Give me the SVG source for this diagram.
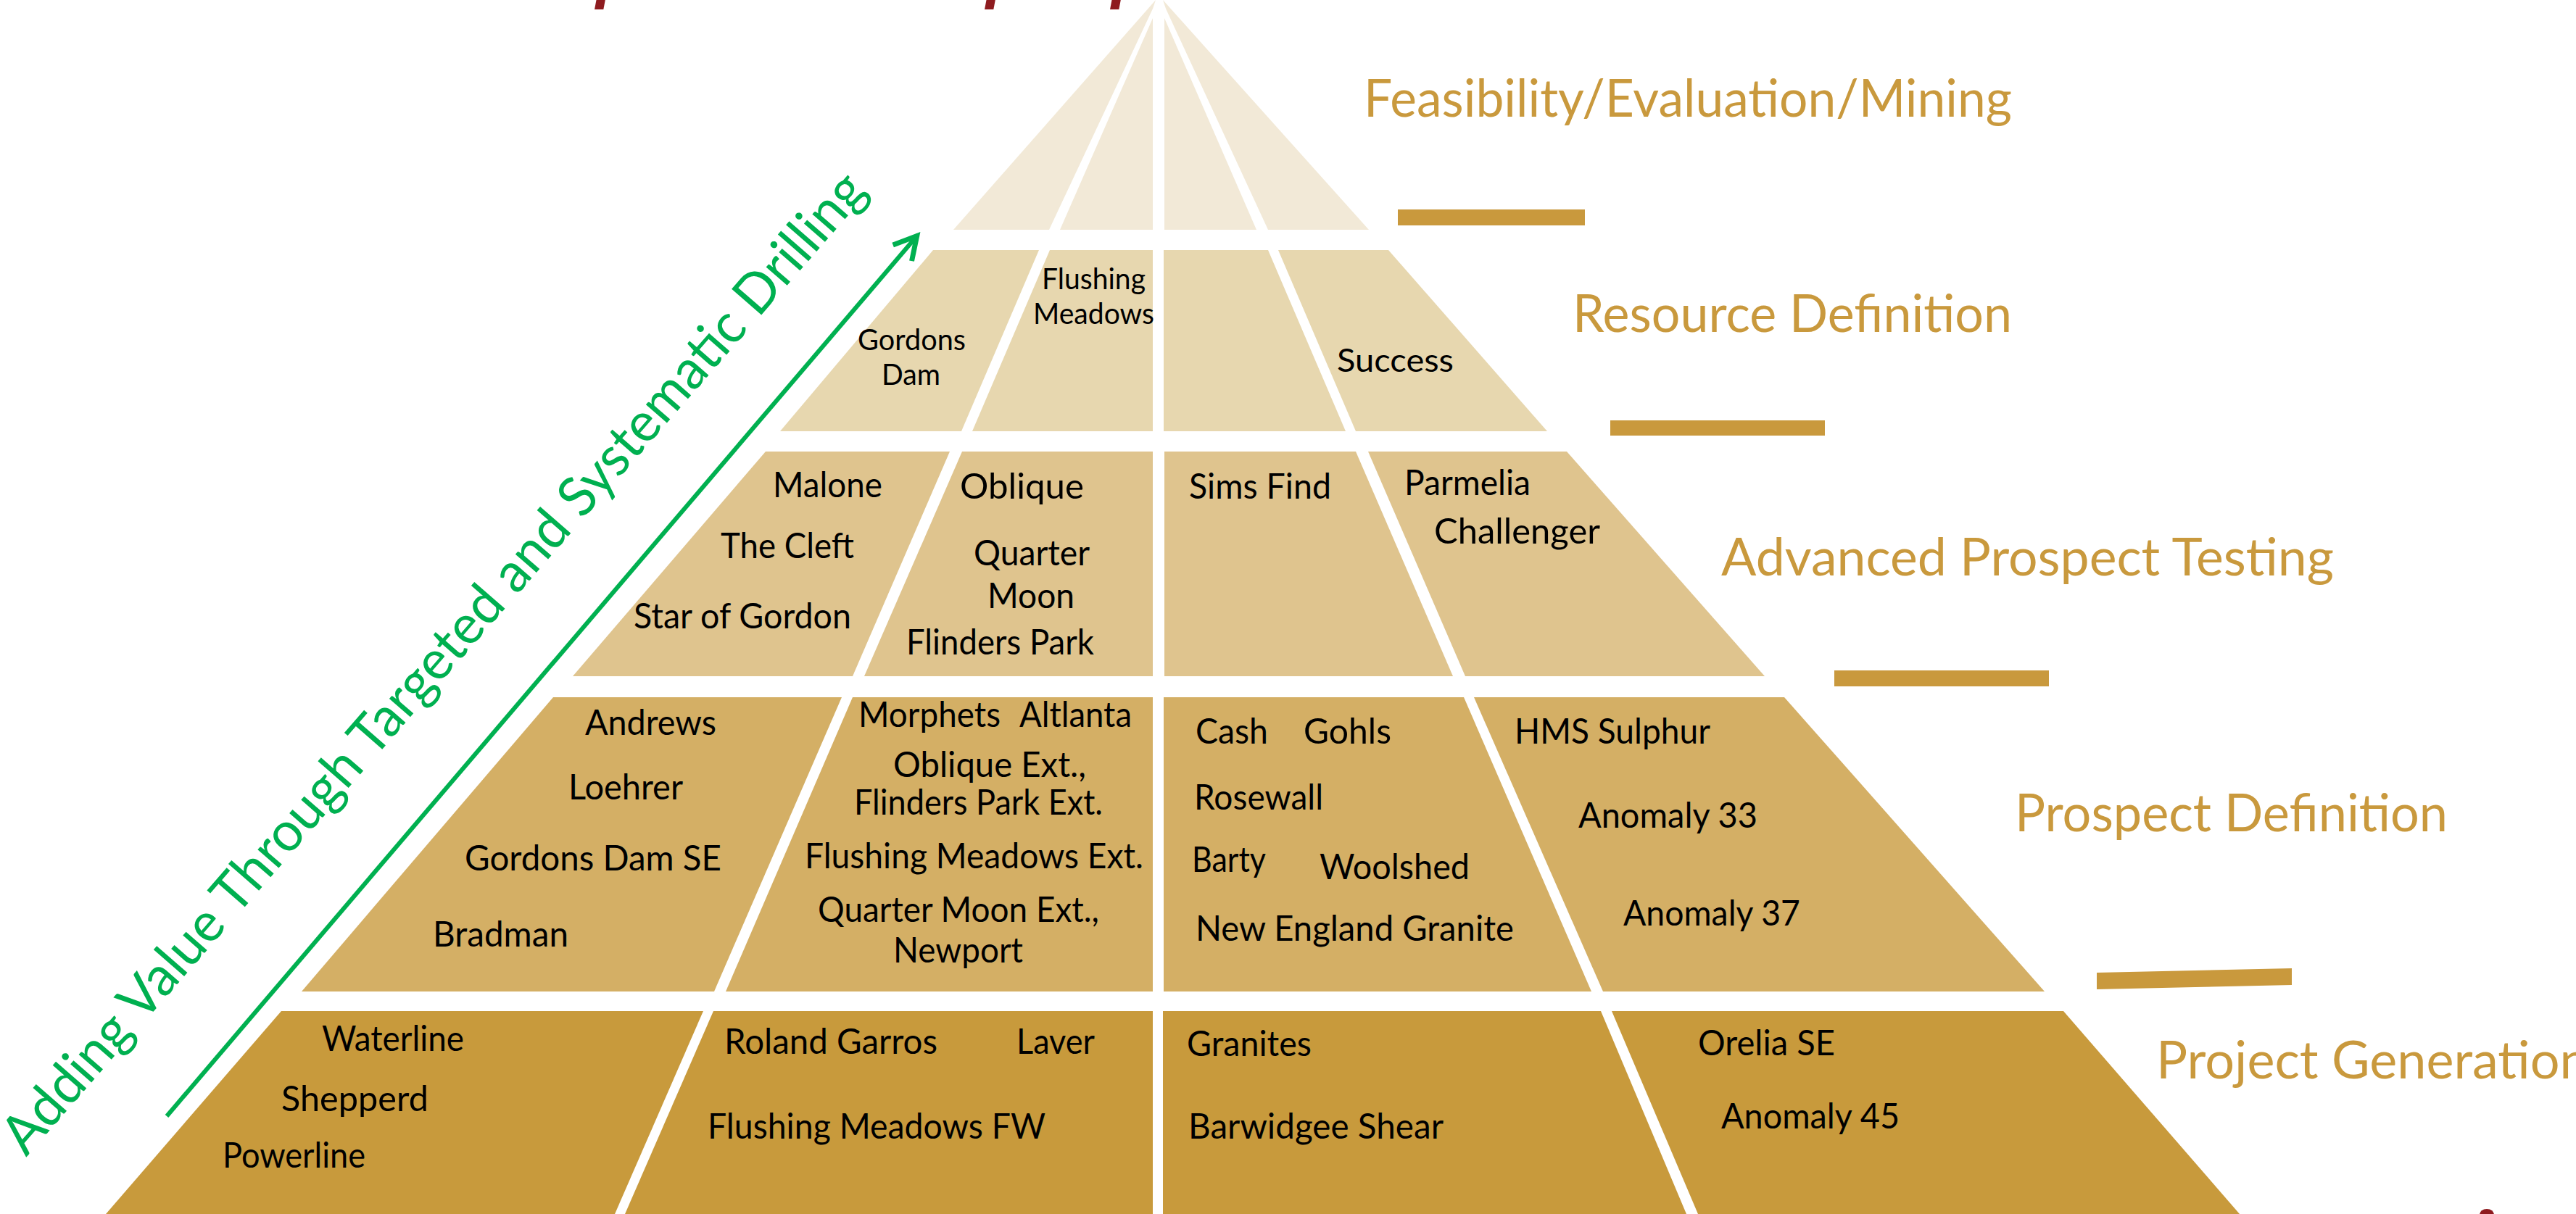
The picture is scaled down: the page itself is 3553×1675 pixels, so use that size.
<svg xmlns="http://www.w3.org/2000/svg" width="3553" height="1675" viewBox="0 0 3553 1675">
<defs>
<style>
.t1{fill:#F2E9D7}
.t2{fill:#E7D7AF}
.t3{fill:#DFC48E}
.t4{fill:#D4AF65}
.t5{fill:#C89A3C}
.lbl{font-family:Lato,"Open Sans","Liberation Sans",sans-serif;fill:#000;font-size:48px}
.sm{font-size:40px}
.stage{font-family:Lato,"Open Sans","Liberation Sans",sans-serif;fill:#C9993D;font-size:72px}
.bar{fill:#C9993D}
.green{font-family:Lato,"Open Sans","Liberation Sans",sans-serif;fill:#00B050;font-size:76px}
.title{font-family:"Liberation Sans",Arial,sans-serif;font-weight:bold;font-style:italic;fill:#8E1B1F;font-size:90px}
</style>
<marker id="arr" markerUnits="userSpaceOnUse" viewBox="-45 -30 55 60" markerWidth="55" markerHeight="60" refX="2" refY="0" orient="auto" overflow="visible">
<path d="M -31 -17 L 0 0 L -31 17" fill="none" stroke="#00B050" stroke-width="7"/>
</marker>
</defs>
<rect x="0" y="0" width="3553" height="1675" fill="#FFFFFF"/>

<g id="title-fragments">
<text class="title" x="822" y="-6">p</text>
<text class="title" x="1360" y="-6">p</text>
<text class="title" x="1533" y="-6">p</text>
</g>

<g id="tier1">
<g id="c1a"><polygon class="t1" points="1315,317 1447,317 1590,12 1594,0"/></g>
<g id="c1b"><polygon class="t1" points="1462,317 1590,317 1590,25"/></g>
<g id="c1c"><polygon class="t1" points="1606,317 1733,317 1606,25"/></g>
<g id="c1d"><polygon class="t1" points="1749,317 1888,317 1604,0 1608,12"/></g>
</g>

<g id="tier2">
<g id="c2a"><polygon class="t2" points="1287,345 1433,345 1326,595 1076,595"/>
<text class="lbl sm" x="1183" y="483" textLength="149" lengthAdjust="spacingAndGlyphs">Gordons</text>
<text class="lbl sm" x="1216" y="531" textLength="81" lengthAdjust="spacingAndGlyphs">Dam</text></g>
<g id="c2b"><polygon class="t2" points="1448,345 1590,345 1590,595 1341,595"/>
<text class="lbl sm" x="1437" y="399" textLength="143" lengthAdjust="spacingAndGlyphs">Flushing</text>
<text class="lbl sm" x="1425" y="447" textLength="167" lengthAdjust="spacingAndGlyphs">Meadows</text></g>
<g id="c2c"><polygon class="t2" points="1605,345 1749,345 1856,595 1605,595"/></g>
<g id="c2d"><polygon class="t2" points="1763,345 1915,345 2134,595 1870,595"/>
<text class="lbl" style="font-size:45px" x="1844" y="513" textLength="161" lengthAdjust="spacingAndGlyphs">Success</text></g>
</g>

<g id="tier3">
<g id="c3a"><polygon class="t3" points="1056,623 1310,623 1176,933 790,933"/>
<text class="lbl" x="1066" y="686" textLength="151" lengthAdjust="spacingAndGlyphs">Malone</text>
<text class="lbl" x="994" y="770" textLength="184" lengthAdjust="spacingAndGlyphs">The Cleft</text>
<text class="lbl" x="874" y="867" textLength="300" lengthAdjust="spacingAndGlyphs">Star of Gordon</text></g>
<g id="c3b"><polygon class="t3" points="1327,623 1590,623 1590,933 1192,933"/>
<text class="lbl" x="1324" y="688" textLength="171" lengthAdjust="spacingAndGlyphs">Oblique</text>
<text class="lbl" x="1343" y="780" textLength="160" lengthAdjust="spacingAndGlyphs">Quarter</text>
<text class="lbl" x="1362" y="839" textLength="120" lengthAdjust="spacingAndGlyphs">Moon</text>
<text class="lbl" x="1250" y="903" textLength="259" lengthAdjust="spacingAndGlyphs">Flinders Park</text></g>
<g id="c3c"><polygon class="t3" points="1606,623 1870,623 2004,933 1606,933"/>
<text class="lbl" x="1640" y="688" textLength="196" lengthAdjust="spacingAndGlyphs">Sims Find</text></g>
<g id="c3d"><polygon class="t3" points="1887,623 2161,623 2434,933 2021,933"/>
<text class="lbl" x="1937" y="683" textLength="174" lengthAdjust="spacingAndGlyphs">Parmelia</text>
<text class="lbl" x="1978" y="750" textLength="229" lengthAdjust="spacingAndGlyphs">Challenger</text></g>
</g>

<g id="tier4">
<g id="c4a"><polygon class="t4" points="763,962 1161,962 985,1368 416,1368"/>
<text class="lbl" x="807" y="1014" textLength="181" lengthAdjust="spacingAndGlyphs">Andrews</text>
<text class="lbl" x="784" y="1103" textLength="158" lengthAdjust="spacingAndGlyphs">Loehrer</text>
<text class="lbl" x="641" y="1201" textLength="354" lengthAdjust="spacingAndGlyphs">Gordons Dam SE</text>
<text class="lbl" x="597" y="1306" textLength="187" lengthAdjust="spacingAndGlyphs">Bradman</text></g>
<g id="c4b"><polygon class="t4" points="1176,962 1590,962 1590,1368 1001,1368"/>
<text class="lbl" y="1003"><tspan x="1184" textLength="196" lengthAdjust="spacingAndGlyphs">Morphets</tspan><tspan x="1406" textLength="155" lengthAdjust="spacingAndGlyphs">Altlanta</tspan></text>
<text class="lbl" x="1232" y="1072" textLength="266" lengthAdjust="spacingAndGlyphs">Oblique Ext.,</text>
<text class="lbl" x="1178" y="1124" textLength="343" lengthAdjust="spacingAndGlyphs">Flinders Park Ext.</text>
<text class="lbl" x="1110" y="1198" textLength="467" lengthAdjust="spacingAndGlyphs">Flushing Meadows Ext.</text>
<text class="lbl" x="1128" y="1272" textLength="388" lengthAdjust="spacingAndGlyphs">Quarter Moon Ext.,</text>
<text class="lbl" x="1232" y="1328" textLength="179" lengthAdjust="spacingAndGlyphs">Newport</text></g>
<g id="c4c"><polygon class="t4" points="1605,962 2019,962 2195,1368 1605,1368"/>
<text class="lbl" x="1649" y="1026" textLength="100" lengthAdjust="spacingAndGlyphs">Cash</text>
<text class="lbl" x="1798" y="1026" textLength="121" lengthAdjust="spacingAndGlyphs">Gohls</text>
<text class="lbl" x="1647" y="1117" textLength="178" lengthAdjust="spacingAndGlyphs">Rosewall</text>
<text class="lbl" x="1644" y="1203" textLength="102" lengthAdjust="spacingAndGlyphs">Barty</text>
<text class="lbl" x="1820" y="1213" textLength="207" lengthAdjust="spacingAndGlyphs">Woolshed</text>
<text class="lbl" x="1649" y="1298" textLength="439" lengthAdjust="spacingAndGlyphs">New England Granite</text></g>
<g id="c4d"><polygon class="t4" points="2033,962 2461,962 2820,1368 2211,1368"/>
<text class="lbl" x="2089" y="1026" textLength="270" lengthAdjust="spacingAndGlyphs">HMS Sulphur</text>
<text class="lbl" x="2177" y="1142" textLength="247" lengthAdjust="spacingAndGlyphs">Anomaly 33</text>
<text class="lbl" x="2239" y="1277" textLength="244" lengthAdjust="spacingAndGlyphs">Anomaly 37</text></g>
</g>

<g id="tier5">
<g id="c5a"><polygon class="t5" points="388,1395 970,1395 848,1675 146,1675"/>
<text class="lbl" x="444" y="1450" textLength="196" lengthAdjust="spacingAndGlyphs">Waterline</text>
<text class="lbl" x="388" y="1533" textLength="203" lengthAdjust="spacingAndGlyphs">Shepperd</text>
<text class="lbl" x="307" y="1611" textLength="197" lengthAdjust="spacingAndGlyphs">Powerline</text></g>
<g id="c5b"><polygon class="t5" points="984,1395 1590,1395 1590,1675 862,1675"/>
<text class="lbl" x="999" y="1454" textLength="294" lengthAdjust="spacingAndGlyphs">Roland Garros</text>
<text class="lbl" x="1402" y="1454" textLength="108" lengthAdjust="spacingAndGlyphs">Laver</text>
<text class="lbl" x="976" y="1571" textLength="466" lengthAdjust="spacingAndGlyphs">Flushing Meadows FW</text></g>
<g id="c5c"><polygon class="t5" points="1604,1395 2208,1395 2326,1675 1604,1675"/>
<text class="lbl" x="1637" y="1457" textLength="172" lengthAdjust="spacingAndGlyphs">Granites</text>
<text class="lbl" x="1639" y="1571" textLength="352" lengthAdjust="spacingAndGlyphs">Barwidgee Shear</text></g>
<g id="c5d"><polygon class="t5" points="2223,1395 2846,1395 3089,1675 2342,1675"/>
<text class="lbl" x="2342" y="1456" textLength="189" lengthAdjust="spacingAndGlyphs">Orelia SE</text>
<text class="lbl" x="2374" y="1557" textLength="246" lengthAdjust="spacingAndGlyphs">Anomaly 45</text></g>
</g>

<g id="stages">
<g id="s1"><text class="stage" x="1881" y="161" textLength="894" lengthAdjust="spacingAndGlyphs">Feasibility/Evaluation/Mining</text>
<rect class="bar" x="1928" y="289" width="258" height="22"/></g>
<g id="s2"><text class="stage" x="2169" y="458" textLength="606" lengthAdjust="spacingAndGlyphs">Resource Definition</text>
<rect class="bar" x="2221" y="580" width="296" height="21"/></g>
<g id="s3"><text class="stage" x="2374" y="794" textLength="845" lengthAdjust="spacingAndGlyphs">Advanced Prospect Testing</text>
<rect class="bar" x="2530" y="925" width="296" height="22"/></g>
<g id="s4"><text class="stage" x="2779" y="1147" textLength="597" lengthAdjust="spacingAndGlyphs">Prospect Definition</text>
<polygon class="bar" points="2892,1342 3161,1336 3161,1359 2892,1365"/></g>
<g id="s5"><text class="stage" x="2974" y="1488">Project Generation</text></g>
</g>

<g id="connectors">
<line x1="230" y1="1540" x2="1266" y2="324" stroke="#00B050" stroke-width="6" marker-end="url(#arr)"/>
<text class="green" transform="translate(36,1597) rotate(-48.9)" x="0" y="0" textLength="1768" lengthAdjust="spacingAndGlyphs">Adding Value Through Targeted and Systematic Drilling</text>
</g>

<ellipse cx="3430" cy="1676" rx="10" ry="8" fill="#8E1B1F"/>
</svg>
